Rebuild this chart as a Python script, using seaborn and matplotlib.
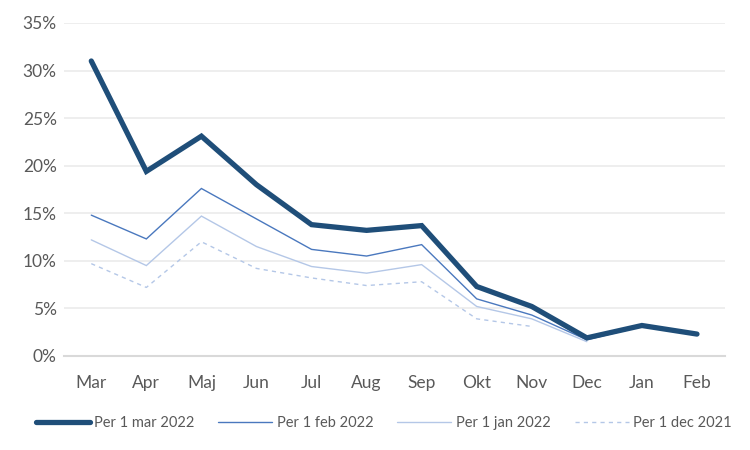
import numpy as np
import pandas as pd
import seaborn as sns
import matplotlib.pyplot as plt
from matplotlib.ticker import PercentFormatter

# --- data (percent) ---
months = ['Mar', 'Apr', 'Maj', 'Jun', 'Jul', 'Aug', 'Sep', 'Okt', 'Nov', 'Dec', 'Jan', 'Feb']
per_mar_2022 = [31.0, 19.4, 23.1, 18.0, 13.8, 13.2, 13.7, 7.3, 5.2, 1.9, 3.2, 2.3]
per_feb_2022 = [14.8, 12.3, 17.6, 14.4, 11.2, 10.5, 11.7, 6.0, 4.3, 1.7, 3.1, np.nan]
per_jan_2022 = [12.2, 9.5, 14.7, 11.5, 9.4, 8.7, 9.6, 5.2, 3.9, 1.5, np.nan, np.nan]
per_dec_2021 = [9.7, 7.2, 12.0, 9.2, 8.2, 7.4, 7.8, 3.9, 3.1, np.nan, np.nan, np.nan]

labels = ['Per 1 mar 2022', 'Per 1 feb 2022', 'Per 1 jan 2022', 'Per 1 dec 2021']
series = [per_mar_2022, per_feb_2022, per_jan_2022, per_dec_2021]

df = pd.DataFrame({'Måned': months})
for lab, vals in zip(labels, series):
    df[lab] = vals

sns.set_theme(style='white')
plt.rcParams['font.family'] = ['Lato', 'DejaVu Sans']

fig = plt.figure(figsize=(7.5, 4.5), dpi=100)
ax = fig.add_axes([0.085, 0.209, 0.881, 0.740])

styles = {
    'Per 1 mar 2022': dict(color='#1F4E79', lw=3.8, ls='-', z=5),
    'Per 1 feb 2022': dict(color='#4A78BE', lw=1.0, ls='-', z=4),
    'Per 1 jan 2022': dict(color='#B4C7E7', lw=1.0, ls='-', z=3),
    'Per 1 dec 2021': dict(color='#B4C7E7', lw=1.0, ls=(0, (3, 3)), z=2),
}

for lab in labels:
    st = styles[lab]
    sns.lineplot(data=df, x='Måned', y=lab, ax=ax, color=st['color'], lw=st['lw'],
                 linestyle=st['ls'], zorder=st['z'], label=lab, sort=False,
                 solid_capstyle='round', solid_joinstyle='miter')

ax.set_ylim(0, 35)
ax.set_yticks(np.arange(0, 36, 5))
ax.yaxis.set_major_formatter(PercentFormatter(decimals=0))
ax.set_xlim(-0.5, len(months) - 0.5)
ax.set_xlabel('')
ax.set_ylabel('')

ax.grid(axis='y', color='#EBEBEB', lw=1.2)
ax.set_axisbelow(True)
for side in ['top', 'right', 'left']:
    ax.spines[side].set_visible(False)
ax.spines['bottom'].set_color('#D9D9D9')
ax.spines['bottom'].set_linewidth(1.5)
ax.tick_params(axis='both', length=0, labelsize=12.5, colors='#595959')
ax.tick_params(axis='x', pad=14)
ax.tick_params(axis='y', pad=5)

leg = ax.legend(loc='upper center', bbox_to_anchor=(0.484, -0.14), ncol=4, frameon=False,
                fontsize=10.5, handlelength=3.7, columnspacing=1.65, handletextpad=0.3)
for t in leg.get_texts():
    t.set_color('#595959')

fig.savefig('out.png', dpi=100)
